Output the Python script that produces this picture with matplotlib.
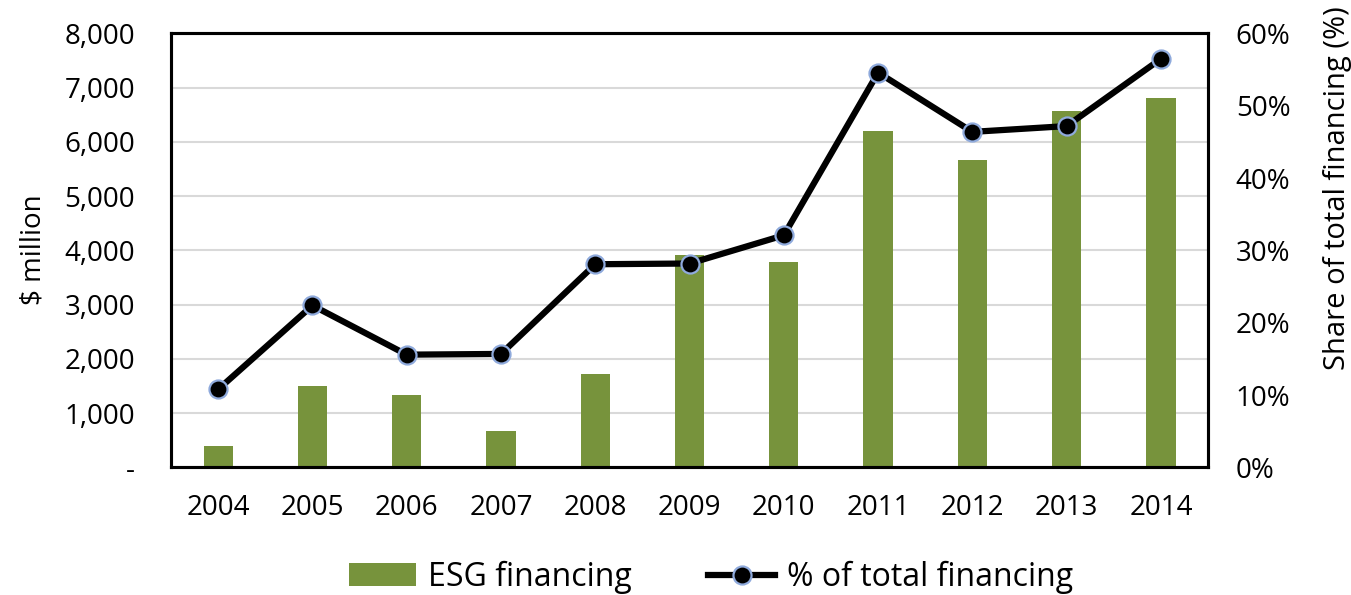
import numpy as np
import matplotlib
matplotlib.use('Agg')
import matplotlib.pyplot as plt
from matplotlib.ticker import FuncFormatter

plt.rcParams['font.family'] = ['Open Sans', 'DejaVu Sans']

# data
years = ['2004', '2005', '2006', '2007', '2008', '2009',
         '2010', '2011', '2012', '2013', '2014']
esg_financing = [390, 1510, 1335, 670, 1730, 3910, 3780, 6210, 5670, 6570, 6820]
share_pct = [10.8, 22.4, 15.6, 15.7, 28.1, 28.2, 32.1, 54.6, 46.4, 47.2, 56.5]

bar_color = '#77933C'
x = np.arange(len(years))

fig = plt.figure(figsize=(13.51, 5.95), dpi=100)
ax = fig.add_axes([0.1266, 0.2143, 0.7676, 0.7294])
ax2 = ax.twinx()

bars = ax.bar(x, esg_financing, width=0.31, color=bar_color, zorder=2,
              label='ESG financing')
ax.set_xlim(-0.5, len(years) - 0.5)
ax.set_ylim(0, 8000)
ax.set_yticks(np.arange(0, 8001, 1000))
ax.yaxis.set_major_formatter(FuncFormatter(lambda v, p: '-' if v == 0 else f'{v:,.0f}'))
ax.grid(True, axis='y', color='#D9D9D9', linewidth=1.5, zorder=0)
ax.set_axisbelow(True)
ax.set_xticks(x)
ax.set_xticklabels(years)
ax.tick_params(axis='both', length=0, labelsize=20)
ax.tick_params(axis='y', pad=26)
ax.tick_params(axis='x', pad=19)

line, = ax2.plot(x, share_pct, color='black', linewidth=4.5, marker='o',
                 markersize=13, markerfacecolor='black',
                 markeredgecolor='#8FAADC', markeredgewidth=1.6,
                 zorder=3, label='% of total financing')
ax2.set_ylim(0, 60)
ax2.set_yticks(np.arange(0, 61, 10))
ax2.yaxis.set_major_formatter(FuncFormatter(lambda v, p: f'{v:.0f}%'))
ax2.tick_params(axis='y', length=0, labelsize=20, pad=20)

for a in (ax, ax2):
    for s in a.spines.values():
        s.set_color('black')
        s.set_linewidth(2.2)

fig.text(33 / 1351, 0.58, '$ million', rotation=90, fontsize=20,
         ha='center', va='center')
fig.text(1337 / 1351, (595 - 370) / 595, 'Share of total financing (%)',
         rotation=90, fontsize=21, ha='center', va='bottom')

fig.legend([bars, line], ['ESG financing', '% of total financing'],
           loc='center', bbox_to_anchor=(711 / 1351, 0.03), ncol=2,
           frameon=False, fontsize=23, handlelength=2.1, handletextpad=0.38,
           columnspacing=2.4, borderaxespad=0, borderpad=0)

fig.savefig('out.png', dpi=100)
